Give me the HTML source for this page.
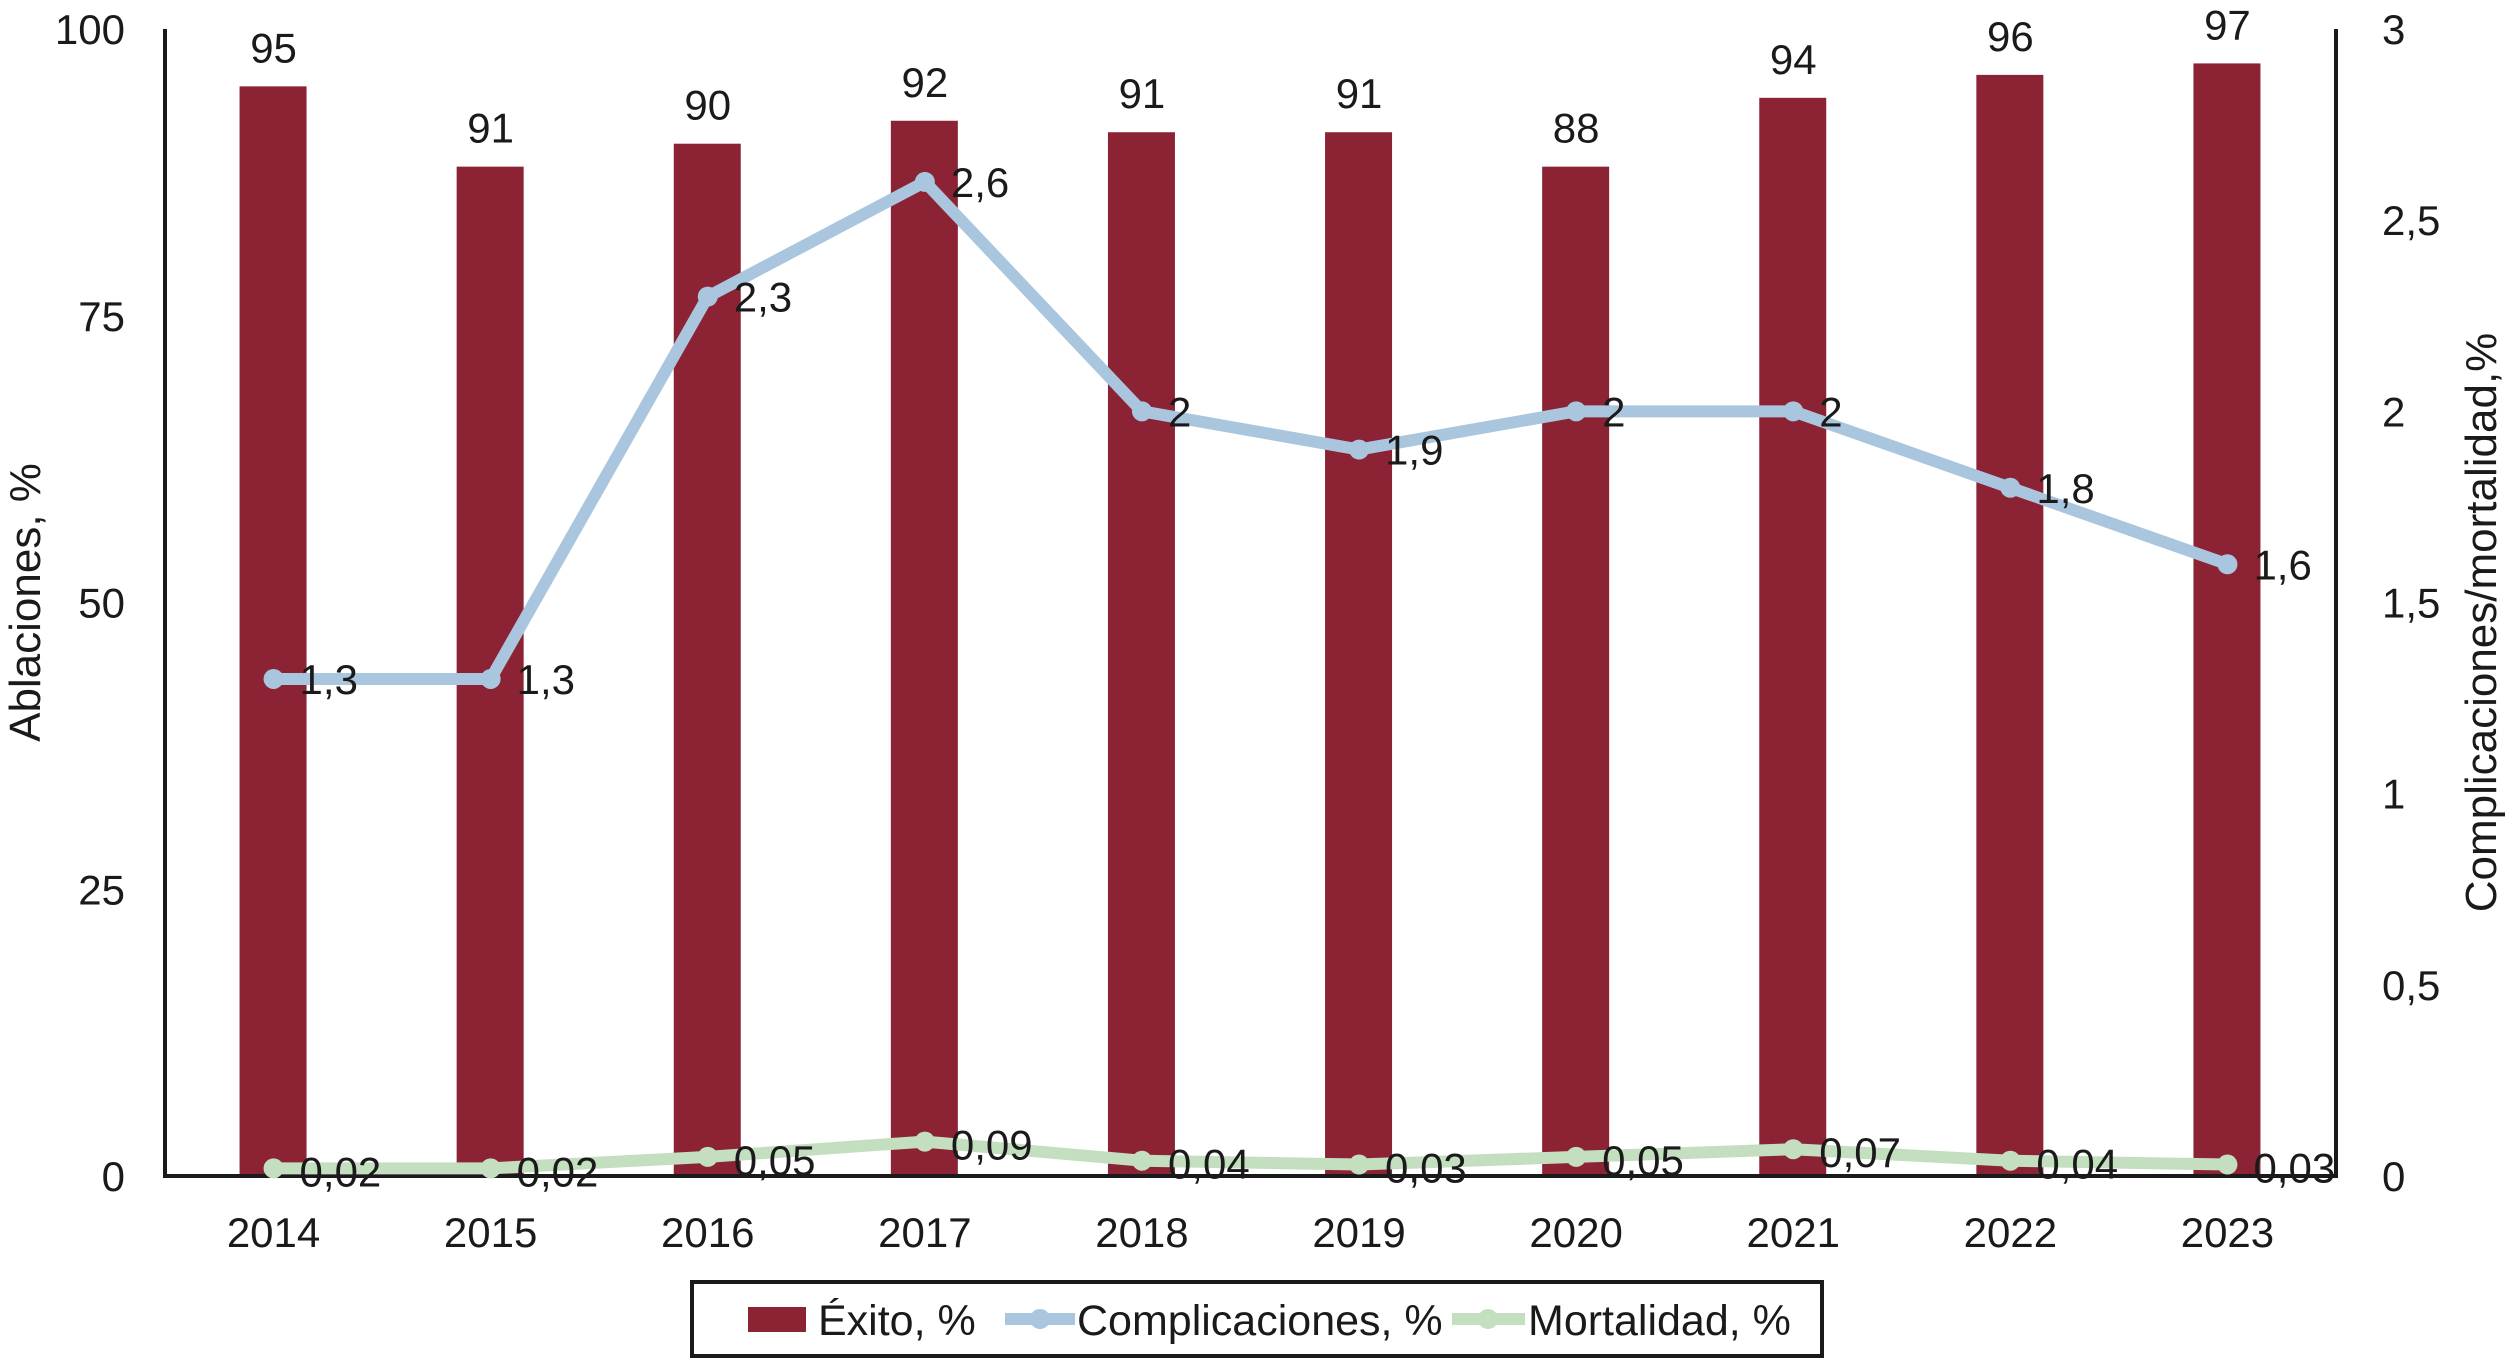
<!DOCTYPE html>
<html><head><meta charset="utf-8"><style>
body{margin:0;background:#fff;}
svg text{font-family:"Liberation Sans",sans-serif;fill:#1a1a1a;}
</style></head><body>
<svg id="c" width="2508" height="1358" viewBox="0 0 2508 1358" xmlns="http://www.w3.org/2000/svg"></svg>
<script>
const categories=["2014","2015","2016","2017","2018","2019","2020","2021","2022","2023"];
const exito=[95,88,90,92,91,91,88,94,96,97];
const exitoLabels=["95","91","90","92","91","91","88","94","96","97"];
const complicaciones=[1.3,1.3,2.3,2.6,2,1.9,2,2,1.8,1.6];
const mortalidad=[0.02,0.02,0.05,0.09,0.04,0.03,0.05,0.07,0.04,0.03];
const leftTicks=[0,25,50,75,100];
const rightTicks=[0,0.5,1,1.5,2,2.5,3];

const svg=document.getElementById('c');
const NS="http://www.w3.org/2000/svg";
const L=165,R=2336,T=29,B=1176;
const band=(R-L)/categories.length;
const xc=i=>L+band*(i+0.5);
const yl=v=>B-(v/100)*(B-T);
const yr=v=>B-(v/3)*(B-T);
const fmt=v=>String(v).replace('.',',');
function el(tag,attrs,parent){const e=document.createElementNS(NS,tag);for(const k in attrs)e.setAttribute(k,attrs[k]);(parent||svg).appendChild(e);return e;}
function txt(s,attrs,parent){const e=el('text',attrs,parent);e.textContent=s;return e;}

categories.forEach((c,i)=>{
  const b=el('rect',{x:xc(i)-34,y:yl(exito[i]),width:67,height:B-yl(exito[i]),fill:'#8b2335'});
  
  
  const t=txt(exitoLabels[i],{x:xc(i),y:yl(exito[i])-24,'font-size':42,'text-anchor':'middle'});
  
  
});
const ax=el('path',{d:`M${L},${T}V${B}H${R}V${T}`,stroke:'#1a1a1a','stroke-width':4,fill:'none'});


leftTicks.forEach(v=>{const t=txt(String(v),{x:L-40,y:yl(v)+15,'font-size':42,'text-anchor':'end'});
  
  });
rightTicks.forEach(v=>{const t=txt(fmt(v),{x:R+46,y:yr(v)+15,'font-size':42,'text-anchor':'start'});
  
  });
categories.forEach((c,i)=>{const t=txt(c,{x:xc(i),y:1247,'font-size':42,'text-anchor':'middle'});
  
  });
const yt=txt('Ablaciones, %',{x:0,y:0,'font-size':44,'text-anchor':'middle',transform:`translate(40,${(T+B)/2}) rotate(-90)`});


const yt2=txt('Complicaciones/mortalidad,%',{x:0,y:0,'font-size':44,'text-anchor':'middle',transform:`translate(2496,${(T+B)/2+20}) rotate(-90)`});



function line(vals,color,name,dy){
  const pts=vals.map((v,i)=>[xc(i),yr(v)]);
  const p=el('polyline',{points:pts.map(p=>p.join(',')).join(' '),fill:'none',stroke:color,'stroke-width':12,'stroke-linejoin':'round'});
  
  
  pts.forEach((q,i)=>{
    const m=el('circle',{cx:q[0],cy:q[1],r:10,fill:color});
    
    
    const t=txt(fmt(vals[i]),{x:q[0]+26,y:q[1]+dy,'font-size':42});
    
    
  });
}
line(complicaciones,'#a9c6de','complicaciones',15);
line(mortalidad,'#c4dfc0','mortalidad',18);

const lg=el('g',{});


el('rect',{x:692,y:1282,width:1130,height:74,fill:'#fff',stroke:'#1a1a1a','stroke-width':4},lg);
el('rect',{x:748,y:1307,width:58,height:25,fill:'#8b2335'},lg);
txt('Éxito, %',{x:818,y:1335,'font-size':43},lg);
el('line',{x1:1005,y1:1319,x2:1075,y2:1319,stroke:'#a9c6de','stroke-width':12},lg);
el('circle',{cx:1040,cy:1319,r:10,fill:'#a9c6de'},lg);
txt('Complicaciones, %',{x:1077,y:1335,'font-size':43},lg);
el('line',{x1:1452,y1:1319,x2:1525,y2:1319,stroke:'#c4dfc0','stroke-width':12},lg);
el('circle',{cx:1488,cy:1319,r:10,fill:'#c4dfc0'},lg);
txt('Mortalidad, %',{x:1528,y:1335,'font-size':43},lg);
</script>
</body></html>
